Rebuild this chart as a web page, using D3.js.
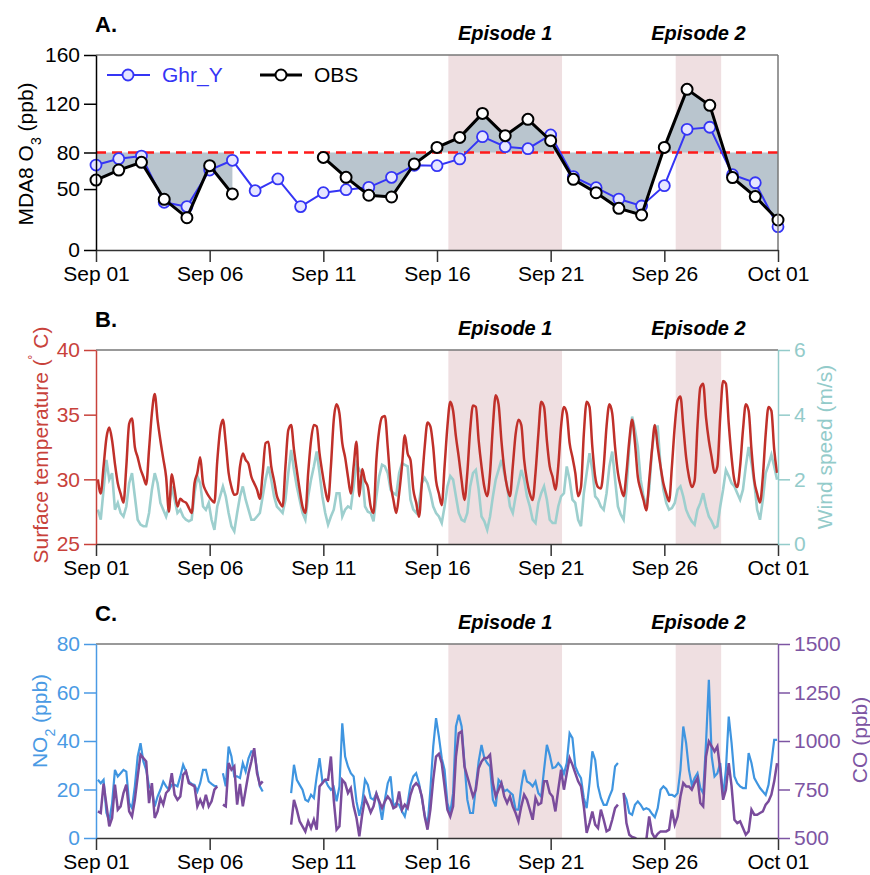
<!DOCTYPE html>
<html>
<head>
<meta charset="utf-8">
<script src="https://cdn.jsdelivr.net/npm/d3@7"></script>
<style>
  body { margin: 0; background: #fff; }
  svg { font-family: "Liberation Sans", Arial, sans-serif; }
</style>
</head>
<body>
<div id="chart"></div>
<script>
// ---- data ----
var tickDays = ["2021-09-01", "2021-09-06", "2021-09-11", "2021-09-16", "2021-09-21", "2021-09-26", "2021-10-01"];
var episodes = [
  { label: "Episode 1", start: "2021-09-16T12:00Z", end: "2021-09-21T12:00Z" },
  { label: "Episode 2", start: "2021-09-26T12:00Z", end: "2021-09-28T12:00Z" }
];

// daily MDA8 O3 (ppb), Sep 01 .. Oct 01
var ghrY = [69.7, 74.9, 77.1, 39.1, 35.6, 65.6, 73.6, 48.7, 58.3, 35.6, 47, 49.5, 51.4, 59.6, 69.5, 69.2,
            74.7, 93, 84.8, 83.1, 94.4, 60.2, 51.1, 41.8, 36.1, 52.8, 99, 100.7, 61.8, 55.2, 19.1];
var obs = [57.4, 65.6, 71.9, 41.6, 26.5, 69.2, 46, null, null, null, 76, 59.6, 44.9, 43.5, 70.6, 84.2,
           92.4, 112.1, 93.8, 107.2, 89.7, 58, 47, 34.2, 28.7, 84.2, 131.8, 118.7, 59.4, 43.8, 24.6];
var o3Ticks = [0, 50, 80, 120, 160];
var threshold = 80;

// 3-hourly samples (02,05,08,11,14,17,20,23 h), one row per day
var tempC = [
  30.0, 28.9, 31.0, 33.2, 34.0, 33.0, 31.2, 29.7,
  28.9, 28.2, 31.0, 34.3, 34.7, 32.5, 31.7, 30.8,
  30.2, 29.6, 32.3, 35.1, 36.6, 34.6, 33.0, 31.6,
  30.2, 27.5, 30.4, 29.2, 27.9, 28.5, 28.3, 28.2,
  27.8, 27.4, 29.7, 30.5, 31.7, 29.7, 29.1, 28.7,
  28.4, 28.2, 31.4, 33.8, 34.6, 32.8, 30.5, 29.4,
  28.8, 28.9, 31.0, 32.0, 31.5, 31.2, 30.2, 29.7,
  29.2, 28.5, 30.5, 32.8, 32.9, 31.0, 29.9, 28.7,
  28.2, 27.9, 31.0, 33.8, 34.2, 32.3, 30.7, 29.2,
  27.9, 27.4, 30.5, 33.0, 34.2, 34.1, 32.0, 30.5,
  29.2, 28.3, 31.0, 34.6, 35.8, 35.1, 32.8, 31.7,
  30.2, 28.9, 31.0, 32.9, 28.7, 30.8, 29.9, 29.4,
  27.9, 27.4, 31.5, 33.8, 34.8, 34.9, 32.5, 29.7,
  28.4, 27.4, 28.9, 31.0, 33.4, 32.0, 31.5, 29.2,
  28.2, 27.1, 29.7, 32.5, 34.4, 34.1, 32.5, 29.9,
  28.9, 28.0, 31.0, 34.1, 36.0, 35.3, 33.3, 31.7,
  29.9, 28.4, 30.5, 33.8, 35.7, 35.6, 33.0, 31.0,
  29.4, 28.7, 30.5, 34.1, 36.5, 35.8, 33.0, 30.8,
  29.4, 28.7, 31.0, 33.5, 34.6, 34.2, 31.5, 29.9,
  28.9, 28.4, 30.5, 33.5, 36.0, 35.6, 33.0, 31.0,
  30.2, 29.2, 31.0, 34.1, 35.6, 35.1, 32.8, 31.7,
  30.5, 28.7, 29.4, 33.5, 36.0, 35.6, 32.5, 30.2,
  29.4, 29.3, 31.0, 34.1, 35.8, 35.1, 32.5, 30.5,
  29.4, 28.7, 30.5, 33.0, 34.6, 32.8, 30.2, 29.2,
  28.4, 27.6, 29.9, 32.3, 34.2, 32.5, 31.0, 29.7,
  28.9, 28.3, 31.0, 34.1, 36.1, 36.4, 34.1, 31.7,
  30.2, 29.4, 29.9, 34.1, 37.1, 37.4, 34.8, 33.0,
  31.7, 30.5, 31.0, 34.8, 37.6, 37.4, 34.3, 31.7,
  29.9, 29.4, 31.0, 33.8, 35.8, 35.3, 32.3, 29.9,
  28.9, 28.2, 30.2, 33.5, 35.6, 35.3, 32.3, 30.5
];
var windMs = [
  1.06, 0.75, 1.68, 2.60, 1.99, 2.19, 1.06, 1.27,
  0.96, 0.85, 1.16, 1.88, 2.19, 1.47, 0.75, 0.60,
  0.55, 0.55, 0.96, 1.68, 2.19, 1.88, 1.27, 1.06,
  0.85, 1.16, 1.78, 1.37, 0.96, 1.06, 0.85, 0.75,
  0.70, 0.75, 1.57, 2.10, 1.88, 1.16, 1.06, 1.27,
  0.75, 0.44, 1.16, 1.47, 1.78, 1.47, 0.96, 0.55,
  0.39, 0.96, 1.47, 1.78, 1.37, 1.06, 0.75, 0.75,
  0.85, 0.96, 1.47, 1.99, 2.40, 1.99, 1.47, 1.16,
  1.06, 0.96, 1.37, 2.19, 2.91, 2.29, 1.78, 1.37,
  0.96, 0.75, 1.47, 1.99, 2.40, 2.86, 2.19, 1.47,
  0.96, 0.60, 0.85, 1.06, 1.57, 1.57, 0.85, 1.06,
  1.16, 1.11, 1.78, 2.50, 2.29, 2.19, 1.16, 1.00,
  0.96, 0.70, 1.47, 2.10, 2.45, 2.40, 2.19, 1.68,
  1.57, 1.52, 2.19, 2.50, 2.45, 2.40, 1.37, 1.06,
  0.96, 1.27, 1.88, 2.04, 1.88, 1.57, 1.16, 0.96,
  0.85, 0.65, 1.16, 1.78, 2.10, 1.99, 1.47, 0.96,
  0.75, 0.70, 0.96, 1.78, 2.19, 2.29, 1.68, 0.85,
  0.70, 0.44, 0.85, 1.47, 1.99, 2.29, 2.60, 2.19,
  1.78, 1.16, 0.96, 1.47, 1.88, 2.29, 1.99, 1.47,
  1.16, 0.75, 0.65, 1.27, 1.57, 1.78, 1.37, 0.75,
  0.65, 0.65, 1.16, 1.47, 1.57, 2.40, 1.99, 1.37,
  1.27, 0.75, 0.55, 1.57, 2.19, 2.81, 2.29, 1.47,
  1.37, 1.16, 1.06, 1.57, 2.40, 2.86, 1.99, 1.16,
  0.91, 0.75, 1.68, 3.00, 3.94, 3.53, 3.00, 1.99,
  1.47, 1.16, 1.68, 2.91, 3.63, 3.63, 2.40, 1.68,
  1.27, 1.06, 1.11, 1.27, 1.68, 1.78, 1.47, 1.06,
  0.85, 0.70, 0.60, 1.06, 1.27, 1.57, 1.16, 0.85,
  0.70, 0.50, 0.55, 1.16, 1.68, 2.29, 2.10, 1.88,
  1.78, 1.57, 1.37, 1.68, 2.40, 3.00, 2.50, 1.88,
  1.06, 0.75, 1.37, 2.19, 2.45, 2.76, 2.40, 1.99
];
var no2Ppb = [
  24.0, 22.6, 24.0, 10.4, 6.9, 14.4, 28.1, 25.4,
  26.7, 28.1, 27.4, 14.4, 12.3, 21.3, 33.6, 39.1,
  31.6, 28.1, 21.3, 19.9, 13.0, 17.1, 19.9, 23.3,
  21.3, 19.9, 21.9, 21.9, 21.3, 25.4, 30.2, 27.4,
  23.3, 22.3, 21.9, 19.2, 22.6, 28.1, 28.1, 23.3,
  22.3, 21.5, 21.3, null, 26.7, 21.3, 37.7, 33.6,
  25.4, 25.4, 24.7, 30.9, 27.4, 32.9, 35.7, 35.7,
  28.1, 21.3, 19.2, null, null, null, null, null,
  null, null, null, null, 18.5, 30.2, 24.0, 21.9,
  19.9, 15.8, 15.1, 17.8, 16.5, 25.4, 32.9, 23.3,
  24.0, 21.5, 19.9, 21.0, 15.1, 21.3, 47.3, 33.6,
  29.5, 26.7, 25.4, 15.1, 9.2, 14.4, 24.0, 21.9,
  16.5, 15.8, 18.5, 14.4, 7.5, 15.8, 22.6, 25.4,
  13.0, 14.4, 13.7, 11.0, 8.9, 14.4, 21.9, 25.4,
  26.7, 22.6, 16.5, 9.6, 4.8, 19.9, 37.7, 49.4,
  41.8, 32.9, 28.1, 14.4, 10.3, 18.5, 46.0, 50.8,
  46.0, 30.9, 15.8, 10.3, 10.3, 21.3, 31.6, 38.4,
  32.9, 30.9, 29.5, 15.8, 13.0, 24.0, 22.6, 19.2,
  19.9, 18.8, 17.8, 11.7, 11.7, 21.3, 28.1, 23.3,
  22.6, 21.3, 23.3, 18.5, 17.1, 28.1, 38.4, 34.3,
  28.8, 29.2, 30.9, 29.5, 26.5, 30.9, 43.2, 41.2,
  29.5, 26.7, 24.7, 16.5, 12.3, 22.6, 35.7, 32.2,
  21.3, 16.5, 13.7, 13.7, 17.1, 19.9, 29.5, 30.9,
  null, 18.5, 15.8, 10.3, 9.6, 13.7, 15.1, 13.7,
  11.7, 12.3, 11.7, 10.0, 8.6, 12.3, 19.9, 21.3,
  20.2, 17.8, 17.8, 17.1, 18.5, 28.1, 46.0, 39.1,
  28.1, 21.9, 24.7, 26.7, 20.6, 18.5, 39.1, 65.2,
  33.6, 25.4, 26.7, 30.9, 17.1, 28.1, 50.1, 39.1,
  25.4, 22.6, 21.3, 20.6, 20.6, 35.0, 30.9, 24.7,
  22.6, 20.6, 19.2, 17.8, 21.9, 30.9, 40.5, 40.5
];
var coPpb = [
  637, 629, 780, 672, 560, 603, 775, 646,
  663, 732, 775, 637, 611, 697, 817, 929,
  912, 894, 680, 783, 603, 637, 706, 672,
  732, 749, 834, 723, 697, 714, 826, 843,
  783, 775, 766, 663, 697, 663, 723, 663,
  689, 749, 766, null, 672, 663, 886, 852,
  869, 672, 779, 663, 749, 834, 894, 963,
  834, 775, 792, null, null, null, null, null,
  null, null, null, null, 569, 697, 646, 586,
  560, 534, 586, 551, 594, 543, 766, 783,
  800, 800, 920, 697, 543, 560, 800, 783,
  732, 757, 663, 603, 509, 620, 706, 672,
  632, 663, 728, 689, 654, 689, 714, 694,
  654, 663, 740, 646, 672, 654, 723, 766,
  783, 766, 714, 611, 543, 646, 800, 920,
  934, 886, 766, 646, 611, 663, 920, 1040,
  1049, 869, 817, 766, 714, 749, 860, 894,
  912, 912, 929, 783, 714, 749, 783, 714,
  680, 714, 663, 629, 586, 663, 723, 697,
  646, 594, 706, 672, 680, 792, 792, 732,
  714, 637, 749, 852, 749, 834, 912, 877,
  834, 792, 766, 663, 526, 577, 637, 569,
  551, 646, 594, 534, 543, 594, 654, 672,
  null, 732, 577, 517, 505, 500, 491, 483,
  474, 491, 611, 526, 500, 522, 534, 534,
  534, 543, 646, 569, 611, 714, 783, 766,
  766, 749, 783, 809, 680, 663, 920, 997,
  972, 946, 972, 852, 697, 749, 886, 766,
  594, 577, 586, 551, 517, 534, 646, 620,
  620, 629, 637, 672, 689, 723, 792, 886
];
var tempTicks = [25, 30, 35, 40];
var windTicks = [0, 2, 4, 6];
var no2Ticks = [0, 20, 40, 60, 80];
var coTicks = [500, 750, 1000, 1250, 1500];

// ---- layout ----
var width = 870, height = 875;
var left = 96, right = 778;
var panels = { A: [55, 250], B: [350, 544], C: [644, 838] };
var pink = "#efdfe1", greyFill = "#b9c5ce";
var cTemp = "#c0302a", cWind = "#9dcfce", cNo2 = "#3f95e0", cCo = "#7a4c9c", cGhr = "#3535f5";
var intFmt = d3.format("d");

var svg = d3.select("#chart").append("svg")
  .attr("width", width).attr("height", height);

var t0 = new Date("2021-09-01T00:00Z"), t1 = new Date("2021-10-01T00:00Z");
var x = d3.scaleUtc().domain([t0, t1]).range([left, right]);
var dayDates = d3.utcDay.range(t0, d3.utcDay.offset(t1, 1));
var hourDates = d3.range(tempC.length).map(function(i) {
  return d3.utcHour.offset(t0, 2 + 3 * i);
});

function pairs(dates, vals) {
  return dates.map(function(d, i) { return { t: d, v: vals[i] }; });
}

function drawPanel(key, letter) {
  var top = panels[key][0], bottom = panels[key][1];
  var g = svg.append("g");
  // clip
  svg.append("clipPath").attr("id", "clip" + key).append("rect")
    .attr("x", left).attr("y", top).attr("width", right - left).attr("height", bottom - top);

  g.selectAll(".ep").data(episodes).enter().append("rect")
    .attr("x", function(d) { return x(new Date(d.start)); })
    .attr("width", function(d) { return x(new Date(d.end)) - x(new Date(d.start)); })
    .attr("y", top).attr("height", bottom - top)
    .attr("fill", pink);

  g.selectAll(".eplab").data(episodes).enter().append("text")
    .attr("x", function(d) { return (x(new Date(d.start)) + x(new Date(d.end))) / 2; })
    .attr("y", top - 15)
    .attr("text-anchor", "middle")
    .style("font-weight", "bold").style("font-style", "italic").style("font-size", "20px")
    .text(function(d) { return d.label; });

  svg.append("text").attr("x", 95).attr("y", top - 23)
    .style("font-weight", "bold").style("font-size", "22px").text(letter);

  // frame top + right
  svg.append("line").attr("x1", left).attr("x2", right).attr("y1", top).attr("y2", top)
    .attr("stroke", "#777").attr("stroke-width", 1.5);
  if (key === "A") {
    svg.append("line").attr("x1", right).attr("x2", right).attr("y1", top).attr("y2", bottom)
      .attr("stroke", "#777").attr("stroke-width", 1.5);
  }

  var xAxis = svg.append("g").attr("transform", "translate(0," + bottom + ")")
    .call(d3.axisBottom(x)
      .tickValues(tickDays.map(function(d) { return new Date(d + "T00:00Z"); }))
      .tickFormat(d3.utcFormat("%b %d"))
      .tickSize(12).tickPadding(4).tickSizeOuter(0));
  styleAxis(xAxis, "#333", "#000");
  return g;
}

function styleAxis(ax, lineCol, textCol) {
  ax.select(".domain").attr("stroke", lineCol).attr("stroke-width", 1.5);
  ax.selectAll(".tick line").attr("stroke", lineCol).attr("stroke-width", 1.5);
  ax.selectAll(".tick text").attr("fill", textCol).style("font-size", "21px")
    .style("font-family", "'Liberation Sans', Arial, sans-serif");
}

function yLabel(xPos, yPos, col, parts) {
  var t = svg.append("text")
    .attr("transform", "translate(" + xPos + "," + yPos + ") rotate(-90)")
    .attr("text-anchor", "middle").attr("fill", col).style("font-size", "21px");
  parts.forEach(function(p) {
    var s = t.append("tspan").text(p[0]);
    if (p[1] === "sub") s.attr("baseline-shift", "sub").style("font-size", "14px");
    if (p[1] === "sup") s.attr("baseline-shift", "super").style("font-size", "14px");
  });
}

// ---- Panel A ----
var gA = drawPanel("A", "A.");
var yA = d3.scaleLinear().domain([0, 160]).range([panels.A[1], panels.A[0]]);

var obsPts = pairs(dayDates, obs);
var ghrPts = pairs(dayDates, ghrY);

gA.append("path").datum(obsPts)
  .attr("fill", greyFill)
  .attr("d", d3.area().defined(function(d) { return d.v != null; })
    .x(function(d) { return x(d.t); })
    .y0(yA(threshold)).y1(function(d) { return yA(d.v); }));

gA.append("line").attr("x1", left).attr("x2", right)
  .attr("y1", yA(threshold)).attr("y2", yA(threshold))
  .attr("stroke", "#ff1a1a").attr("stroke-width", 2.5).attr("stroke-dasharray", "10,6");

var lineA = d3.line().defined(function(d) { return d.v != null; })
  .x(function(d) { return x(d.t); }).y(function(d) { return yA(d.v); });

gA.append("path").datum(ghrPts).attr("fill", "none")
  .attr("stroke", cGhr).attr("stroke-width", 2).attr("d", lineA);
gA.selectAll(".ghr").data(ghrPts).enter().append("circle")
  .attr("cx", function(d) { return x(d.t); }).attr("cy", function(d) { return yA(d.v); })
  .attr("r", 5.5).attr("fill", "#e6e6ff").attr("stroke", cGhr).attr("stroke-width", 1.8);

gA.append("path").datum(obsPts).attr("fill", "none")
  .attr("stroke", "#000").attr("stroke-width", 3).attr("d", lineA);
gA.selectAll(".obs").data(obsPts.filter(function(d) { return d.v != null; })).enter().append("circle")
  .attr("cx", function(d) { return x(d.t); }).attr("cy", function(d) { return yA(d.v); })
  .attr("r", 5.5).attr("fill", "#fff").attr("stroke", "#000").attr("stroke-width", 2);

var axA = svg.append("g").attr("transform", "translate(" + left + ",0)")
  .call(d3.axisLeft(yA).tickValues(o3Ticks).tickSize(12).tickPadding(4).tickSizeOuter(0));
styleAxis(axA, "#000", "#000");
yLabel(33, 154, "#000", [["MDA8 O"], ["3", "sub"], [" (ppb)"]]);

// legend
var leg = svg.append("g");
leg.append("line").attr("x1", 107).attr("x2", 150).attr("y1", 75).attr("y2", 75)
  .attr("stroke", cGhr).attr("stroke-width", 2);
leg.append("circle").attr("cx", 128).attr("cy", 75).attr("r", 5.5)
  .attr("fill", "#e6e6ff").attr("stroke", cGhr).attr("stroke-width", 1.8);
leg.append("text").attr("x", 162).attr("y", 82).attr("fill", cGhr)
  .style("font-size", "21px").text("Ghr_Y");
leg.append("line").attr("x1", 260).attr("x2", 302).attr("y1", 75).attr("y2", 75)
  .attr("stroke", "#000").attr("stroke-width", 3);
leg.append("circle").attr("cx", 281).attr("cy", 75).attr("r", 5.5)
  .attr("fill", "#fff").attr("stroke", "#000").attr("stroke-width", 2);
leg.append("text").attr("x", 314).attr("y", 82).attr("fill", "#000")
  .style("font-size", "21px").text("OBS");

// ---- Panel B ----
var gB = drawPanel("B", "B.");
var yT = d3.scaleLinear().domain([25, 40]).range([panels.B[1], panels.B[0]]);
var yW = d3.scaleLinear().domain([0, 6]).range([panels.B[1], panels.B[0]]);

gB.append("path").datum(pairs(hourDates, windMs))
  .attr("clip-path", "url(#clipB)")
  .attr("fill", "none").attr("stroke", cWind).attr("stroke-width", 2.6)
  .attr("d", d3.line().x(function(d) { return x(d.t); }).y(function(d) { return yW(d.v); }));
gB.append("path").datum(pairs(hourDates, tempC))
  .attr("clip-path", "url(#clipB)")
  .attr("fill", "none").attr("stroke", cTemp).attr("stroke-width", 2.5)
  .attr("d", d3.line().curve(d3.curveMonotoneX)
    .x(function(d) { return x(d.t); }).y(function(d) { return yT(d.v); }));

var axT = svg.append("g").attr("transform", "translate(" + left + ",0)")
  .call(d3.axisLeft(yT).tickValues(tempTicks).tickFormat(intFmt)
    .tickSize(12).tickPadding(4).tickSizeOuter(0));
styleAxis(axT, "#c8423b", "#c8423b");
var axW = svg.append("g").attr("transform", "translate(" + right + ",0)")
  .call(d3.axisRight(yW).tickValues(windTicks).tickFormat(intFmt)
    .tickSize(12).tickPadding(4).tickSizeOuter(0));
styleAxis(axW, "#93cbca", "#93cbca");
yLabel(48, 445, "#c8423b", [["Surface temperature ("], ["˚", "sup"], [" C)"]]);
yLabel(832, 447, "#93cbca", [["Wind speed (m/s)"]]);

// ---- Panel C ----
var gC = drawPanel("C", "C.");
var yN = d3.scaleLinear().domain([0, 80]).range([panels.C[1], panels.C[0]]);
var yC = d3.scaleLinear().domain([500, 1500]).range([panels.C[1], panels.C[0]]);

gC.append("path").datum(pairs(hourDates, no2Ppb))
  .attr("clip-path", "url(#clipC)")
  .attr("fill", "none").attr("stroke", cNo2).attr("stroke-width", 2.2)
  .attr("d", d3.line().defined(function(d) { return d.v != null; })
    .x(function(d) { return x(d.t); }).y(function(d) { return yN(d.v); }));
gC.append("path").datum(pairs(hourDates, coPpb))
  .attr("clip-path", "url(#clipC)")
  .attr("fill", "none").attr("stroke", cCo).attr("stroke-width", 2.5)
  .attr("d", d3.line().defined(function(d) { return d.v != null; })
    .x(function(d) { return x(d.t); }).y(function(d) { return yC(d.v); }));

var axN = svg.append("g").attr("transform", "translate(" + left + ",0)")
  .call(d3.axisLeft(yN).tickValues(no2Ticks).tickFormat(intFmt)
    .tickSize(12).tickPadding(4).tickSizeOuter(0));
styleAxis(axN, "#4a9ae4", "#4a9ae4");
var axC = svg.append("g").attr("transform", "translate(" + right + ",0)")
  .call(d3.axisRight(yC).tickValues(coTicks).tickFormat(intFmt)
    .tickSize(12).tickPadding(4).tickSizeOuter(0));
styleAxis(axC, "#7d55a3", "#7d55a3");
yLabel(47, 721, "#4a9ae4", [["NO"], ["2", "sub"], [" (ppb)"]]);
yLabel(867, 740, "#7d55a3", [["CO (ppb)"]]);
</script>
</body>
</html>
